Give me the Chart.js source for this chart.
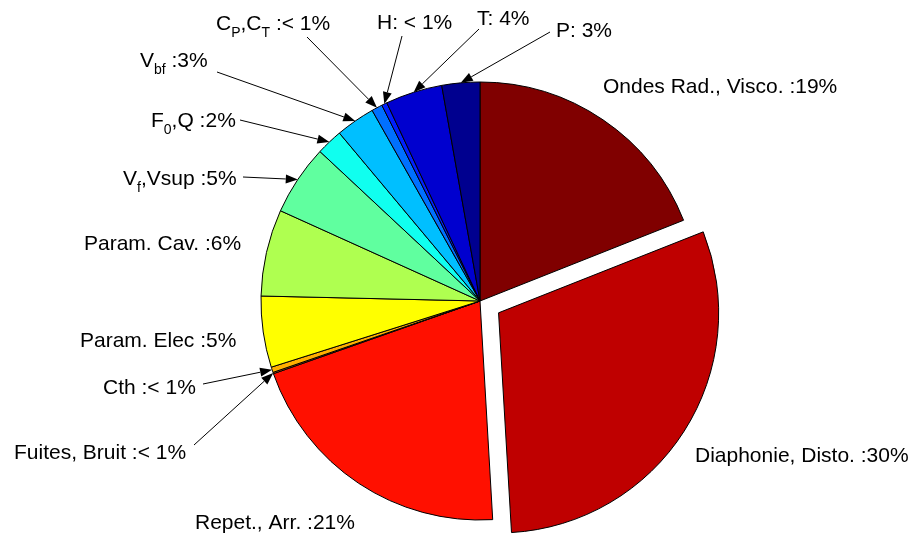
<!DOCTYPE html>
<html>
<head>
<meta charset="utf-8">
<title>Postes d'erreur</title>
<script src="https://cdn.jsdelivr.net/npm/chart.js@4/dist/chart.umd.min.js"></script>
<style>
  html, body { margin: 0; padding: 0; background: #fff; }
  canvas { display: block; }
</style>
</head>
<body>
<canvas id="pieChart" width="909" height="534"></canvas>
<script>
// postes, dans l'ordre horaire depuis midi
const categories = [
  'Ondes Rad., Visco.', 'Diaphonie, Disto.', 'Repet., Arr.', 'Fuites, Bruit', 'Cth',
  'Param. Elec', 'Param. Cav.', 'V_{f},Vsup', 'F_{0},Q', 'V_{bf}',
  'C_{P},C_{T}', 'H', 'T', 'P'
]
const separators = [' :', ' :', ' :', ' :', ' :', ' :', ' :', ' :', ' :', ' :', ' :', ': ', ': ', ': ']
const values = [19.0, 30.1, 20.55, 0.1, 0.4, 5.25, 6.4, 5.2, 1.95, 2.9, 0.8, 0.4, 4.2, 2.8]
const explode = [0, 1, 0, 0, 0, 0, 0, 0, 0, 0, 0, 0, 0, 0]

// position des étiquettes (gauche, milieu) et départ des flèches
const labelLayout = [
  { x: 603, y: 86 },
  { x: 695, y: 455 },
  { x: 195, y: 522 },
  { x: 14, y: 452, from: [194, 445] },
  { x: 103, y: 387, from: [203, 384] },
  { x: 80, y: 340 },
  { x: 84, y: 243 },
  { x: 123, y: 178, from: [243, 177] },
  { x: 151, y: 120, from: [240, 120] },
  { x: 140, y: 60, from: [217, 72] },
  { x: 216, y: 23, from: [307, 37] },
  { x: 377, y: 22, from: [402, 36] },
  { x: 477, y: 18, from: [479, 29] },
  { x: 556, y: 30, from: [550, 32] }
]

const FONT_FAMILY = "'Liberation Sans', Arial, Helvetica, sans-serif"
const MAIN_FONT = '21px ' + FONT_FAMILY
const SUB_FONT = '14px ' + FONT_FAMILY

// colormap jet(64) façon MATLAB
function jet64(k) {
  const u = j => (j <= 16 ? j / 16 : j <= 31 ? 1 : (48 - j) / 16)
  const r = k >= 25 ? (k <= 40 ? (k - 24) / 16 : k <= 55 ? 1 : (72 - k) / 16) : 0
  const g = k >= 9 && k <= 55 ? u(k - 8) : 0
  const b = k <= 39 ? u(k + 8) : 0
  return `rgb(${Math.round(r * 255)}, ${Math.round(g * 255)}, ${Math.round(b * 255)})`
}

// les couleurs suivent l'ordre anti-horaire (P = premier, Ondes = dernier)
const n = values.length
const colors = values.map((v, i) => {
  const c = n - i
  const k = Math.min(64, Math.floor((c - 1) / (n - 1) * 64) + 1)
  return jet64(k)
})

const total = values.reduce((a, b) => a + b, 0)
const pctText = values.map(v => {
  const p = v / total * 100
  return p < 1 ? '< 1%' : Math.round(p) + '%'
})

function drawRich(ctx, str, x, y) {
  const parts = str.split(/(_\{[^}]*\})/)
  for (const p of parts) {
    if (!p) continue
    if (p.startsWith('_{')) {
      const t = p.slice(2, -1)
      ctx.font = SUB_FONT
      ctx.fillText(t, x, y + 7)
      x += ctx.measureText(t).width
    } else {
      ctx.font = MAIN_FONT
      ctx.fillText(p, x, y)
      x += ctx.measureText(p).width
    }
  }
}

function drawArrow(ctx, x0, y0, x1, y1) {
  const a = Math.atan2(y1 - y0, x1 - x0)
  const len = 12, half = 4.5
  const bx = x1 - Math.cos(a) * len, by = y1 - Math.sin(a) * len
  ctx.beginPath()
  ctx.moveTo(x0, y0)
  ctx.lineTo(bx, by)
  ctx.stroke()
  ctx.beginPath()
  ctx.moveTo(x1, y1)
  ctx.lineTo(bx - Math.sin(a) * half, by + Math.cos(a) * half)
  ctx.lineTo(bx + Math.sin(a) * half, by - Math.cos(a) * half)
  ctx.closePath()
  ctx.fill()
}

// étiquettes texte + flèches vers le milieu de chaque secteur
const pieLabels = {
  id: 'pieLabels',
  afterDraw(chart) {
    const ctx = chart.ctx
    const arcs = chart.getDatasetMeta(0).data
    ctx.save()
    ctx.fillStyle = '#000'
    ctx.strokeStyle = '#000'
    ctx.lineWidth = 1
    ctx.textAlign = 'left'
    ctx.textBaseline = 'alphabetic'
    labelLayout.forEach((pos, i) => {
      drawRich(ctx, categories[i] + separators[i] + pctText[i], pos.x, pos.y + 7)
      if (pos.from) {
        const arc = arcs[i]
        const mid = (arc.startAngle + arc.endAngle) / 2
        const tx = arc.x + Math.cos(mid) * arc.outerRadius
        const ty = arc.y + Math.sin(mid) * arc.outerRadius
        drawArrow(ctx, pos.from[0], pos.from[1], tx, ty)
      }
    })
    ctx.restore()
  }
}

new Chart(document.getElementById('pieChart'), {
  type: 'pie',
  data: {
    labels: categories,
    datasets: [{
      data: values,
      backgroundColor: colors,
      borderColor: '#000',
      borderWidth: 1,
      borderJoinStyle: 'miter',
      offset: explode.map(e => e * 88),
      hoverOffset: 0
    }]
  },
  options: {
    responsive: false,
    animation: false,
    events: [],
    radius: 219,
    layout: { padding: { left: 60, right: 9, top: 70, bottom: 2 } },
    plugins: {
      legend: { display: false },
      tooltip: { enabled: false },
      title: { display: false }
    }
  },
  plugins: [pieLabels]
})
</script>
</body>
</html>
